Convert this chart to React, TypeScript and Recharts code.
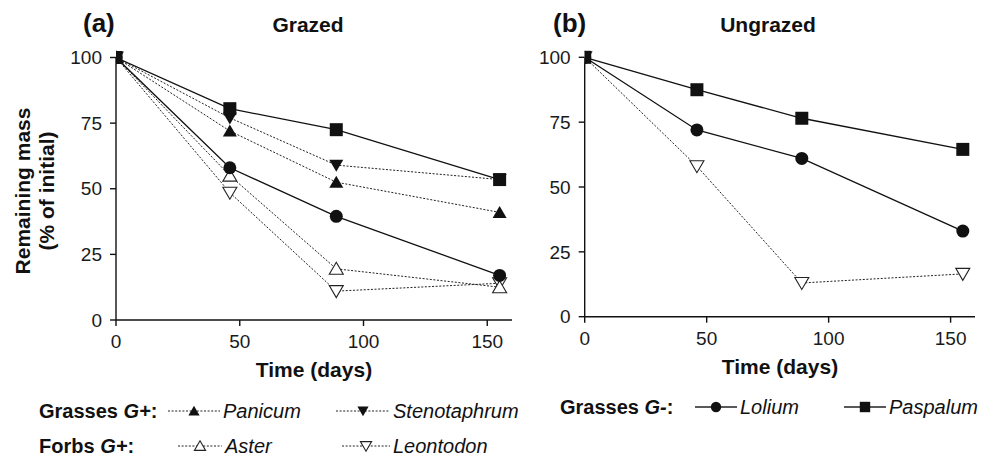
import React from 'react';
import { LineChart, Line, XAxis, YAxis } from 'recharts';

const days = [0, 46, 89, 155];
const xTicks = [0, 50, 100, 150];
const yTicks = [0, 25, 50, 75, 100];

const grazedPanicum = [100, 72, 52.5, 41];
const grazedStenotaphrum = [100, 77, 59, 53.5];
const grazedAster = [100, 55, 19.5, 12.5];
const grazedLeontodon = [100, 48.5, 11, 14];
const grazedLolium = [100, 58, 39.5, 17];
const grazedPaspalum = [100, 80.5, 72.5, 53.5];

const ungrazedLolium = [100, 72, 61, 33];
const ungrazedPaspalum = [100, 87.5, 76.5, 64.5];
const ungrazedLeontodon = [100, 58, 13, 16.5];

const FONT = '"Liberation Sans", Arial, Helvetica, sans-serif';
const DOT_DASH = '2 1.6';

type Shape = 'square' | 'circle' | 'triUp' | 'triDown' | 'triUpOpen' | 'triDownOpen';

function Marker({ cx, cy, shape, s = 1 }: { cx: number; cy: number; shape: Shape; s?: number }) {
  const h = 6.5 * s;
  switch (shape) {
    case 'square':
      return <rect x={cx - h} y={cy - h} width={2 * h} height={2 * h} fill="#111" />;
    case 'circle':
      return <circle cx={cx} cy={cy} r={h} fill="#111" />;
    case 'triUp':
      return <polygon points={`${cx},${cy - h} ${cx + 7 * s},${cy + 5.5 * s} ${cx - 7 * s},${cy + 5.5 * s}`} fill="#111" />;
    case 'triDown':
      return <polygon points={`${cx - 7 * s},${cy - 5.5 * s} ${cx + 7 * s},${cy - 5.5 * s} ${cx},${cy + h}`} fill="#111" />;
    case 'triUpOpen':
      return <polygon points={`${cx},${cy - h} ${cx + 7 * s},${cy + 5.5 * s} ${cx - 7 * s},${cy + 5.5 * s}`} fill="#fff" stroke="#222" strokeWidth={1.1} />;
    case 'triDownOpen':
      return <polygon points={`${cx - 7 * s},${cy - 5.5 * s} ${cx + 7 * s},${cy - 5.5 * s} ${cx},${cy + h}`} fill="#fff" stroke="#222" strokeWidth={1.1} />;
  }
  return null;
}

const makeDot = (shape: Shape) => (p: any) => (
  <g key={`dot-${shape}-${p.index}`}>
    {p.cx != null && p.cy != null ? <Marker cx={p.cx} cy={p.cy} shape={shape} /> : null}
  </g>
);

const grazedData = days.map((d, i) => ({
  day: d,
  panicum: grazedPanicum[i],
  stenotaphrum: grazedStenotaphrum[i],
  aster: grazedAster[i],
  leontodon: grazedLeontodon[i],
  lolium: grazedLolium[i],
  paspalum: grazedPaspalum[i],
}));

const ungrazedData = days.map((d, i) => ({
  day: d,
  lolium: ungrazedLolium[i],
  paspalum: ungrazedPaspalum[i],
  leontodon: ungrazedLeontodon[i],
}));

const tickStyle = { fontSize: 19, fill: '#1a1a1a', fontFamily: FONT };
const axisLine = { stroke: '#111', strokeWidth: 1.4 };
const tickLine = { stroke: '#111', strokeWidth: 1.4 };

function Axes({ yWidth }: { yWidth: number }) {
  return (
    <>
      <XAxis
        dataKey="day"
        type="number"
        domain={[0, 160]}
        ticks={xTicks}
        tick={tickStyle}
        tickSize={6}
        tickMargin={9}
        axisLine={axisLine}
        tickLine={tickLine}
        height={30}
        allowDataOverflow
      />
      <YAxis
        type="number"
        domain={[0, 100]}
        ticks={yTicks}
        tick={tickStyle}
        tickSize={6}
        tickMargin={8}
        axisLine={axisLine}
        tickLine={tickLine}
        width={yWidth}
      />
    </>
  );
}

function LegendItem({ x, y, shape, solid, label, len = 46 }: { x: number; y: number; shape: Shape; solid: boolean; label: string; len?: number }) {
  return (
    <g>
      <line x1={x} y1={y} x2={x + len} y2={y} stroke="#222" strokeWidth={solid ? 1.4 : 1} strokeDasharray={solid ? undefined : DOT_DASH} />
      <Marker cx={x + len / 2} cy={y} shape={shape} s={0.8} />
      <text x={x + len + 3} y={y + 7} fontSize={20} fontStyle="italic" fontFamily={FONT} fill="#111">{label}</text>
    </g>
  );
}

export default function App() {
  return (
    <div style={{ position: 'absolute', left: 0, top: 0, width: 986, height: 456, background: '#fff', fontFamily: FONT }}>
      <div style={{ position: 'absolute', left: 0, top: 0 }}>
        <LineChart width={520} height={360} data={grazedData} margin={{ top: 57.5, right: 8, bottom: 10, left: 0 }}>
          <Axes yWidth={116} />
          <Line dataKey="leontodon" stroke="#222" strokeWidth={1} strokeDasharray={DOT_DASH} dot={makeDot('triDownOpen')} isAnimationActive={false} />
          <Line dataKey="aster" stroke="#222" strokeWidth={1} strokeDasharray={DOT_DASH} dot={makeDot('triUpOpen')} isAnimationActive={false} />
          <Line dataKey="panicum" stroke="#222" strokeWidth={1} strokeDasharray={DOT_DASH} dot={makeDot('triUp')} isAnimationActive={false} />
          <Line dataKey="stenotaphrum" stroke="#222" strokeWidth={1} strokeDasharray={DOT_DASH} dot={makeDot('triDown')} isAnimationActive={false} />
          <Line dataKey="lolium" stroke="#111" strokeWidth={1.3} dot={makeDot('circle')} isAnimationActive={false} />
          <Line dataKey="paspalum" stroke="#111" strokeWidth={1.3} dot={makeDot('square')} isAnimationActive={false} />
        </LineChart>
      </div>
      <div style={{ position: 'absolute', left: 480, top: 0 }}>
        <LineChart width={500} height={360} data={ungrazedData} margin={{ top: 57.3, right: 5, bottom: 13.3, left: 0 }}>
          <Axes yWidth={104.7} />
          <Line dataKey="leontodon" stroke="#222" strokeWidth={1} strokeDasharray={DOT_DASH} dot={makeDot('triDownOpen')} isAnimationActive={false} />
          <Line dataKey="lolium" stroke="#111" strokeWidth={1.3} dot={makeDot('circle')} isAnimationActive={false} />
          <Line dataKey="paspalum" stroke="#111" strokeWidth={1.3} dot={makeDot('square')} isAnimationActive={false} />
        </LineChart>
      </div>
      <svg width={986} height={456} style={{ position: 'absolute', left: 0, top: 0, pointerEvents: 'none' }}>
        <g fontFamily={FONT} fill="#111">
          <text x={83} y={31.5} fontSize={26} fontWeight="bold">(a)</text>
          <text x={308} y={31.5} fontSize={21} fontWeight="bold" textAnchor="middle">Grazed</text>
          <text x={553} y={31.5} fontSize={26} fontWeight="bold">(b)</text>
          <text x={768} y={31.5} fontSize={21} fontWeight="bold" textAnchor="middle">Ungrazed</text>

          <text transform="translate(30,191) rotate(-90)" fontSize={21} fontWeight="bold" textAnchor="middle">Remaining mass</text>
          <text transform="translate(53.5,191) rotate(-90)" fontSize={21} fontWeight="bold" textAnchor="middle">(% of initial)</text>

          <text x={314} y={377} fontSize={21} fontWeight="bold" textAnchor="middle">Time (days)</text>
          <text x={780} y={374} fontSize={21} fontWeight="bold" textAnchor="middle">Time (days)</text>

          <text x={39} y={418} fontSize={20} fontWeight="bold">Grasses <tspan fontStyle="italic">G+</tspan>:</text>
          <text x={39} y={453} fontSize={20} fontWeight="bold">Forbs <tspan fontStyle="italic">G+</tspan>:</text>
          <text x={560} y={414} fontSize={20} fontWeight="bold">Grasses <tspan fontStyle="italic">G-</tspan>:</text>
        </g>
        <LegendItem x={168} y={411} shape="triUp" solid={false} label="Panicum" len={52} />
        <LegendItem x={336} y={411} shape="triDown" solid={false} label="Stenotaphrum" len={54} />
        <LegendItem x={178} y={446} shape="triUpOpen" solid={false} label="Aster" len={44} />
        <LegendItem x={342} y={446} shape="triDownOpen" solid={false} label="Leontodon" len={48} />
        <LegendItem x={695} y={407} shape="circle" solid label="Lolium" len={42} />
        <LegendItem x={844} y={407} shape="square" solid label="Paspalum" len={42} />
      </svg>
    </div>
  );
}
